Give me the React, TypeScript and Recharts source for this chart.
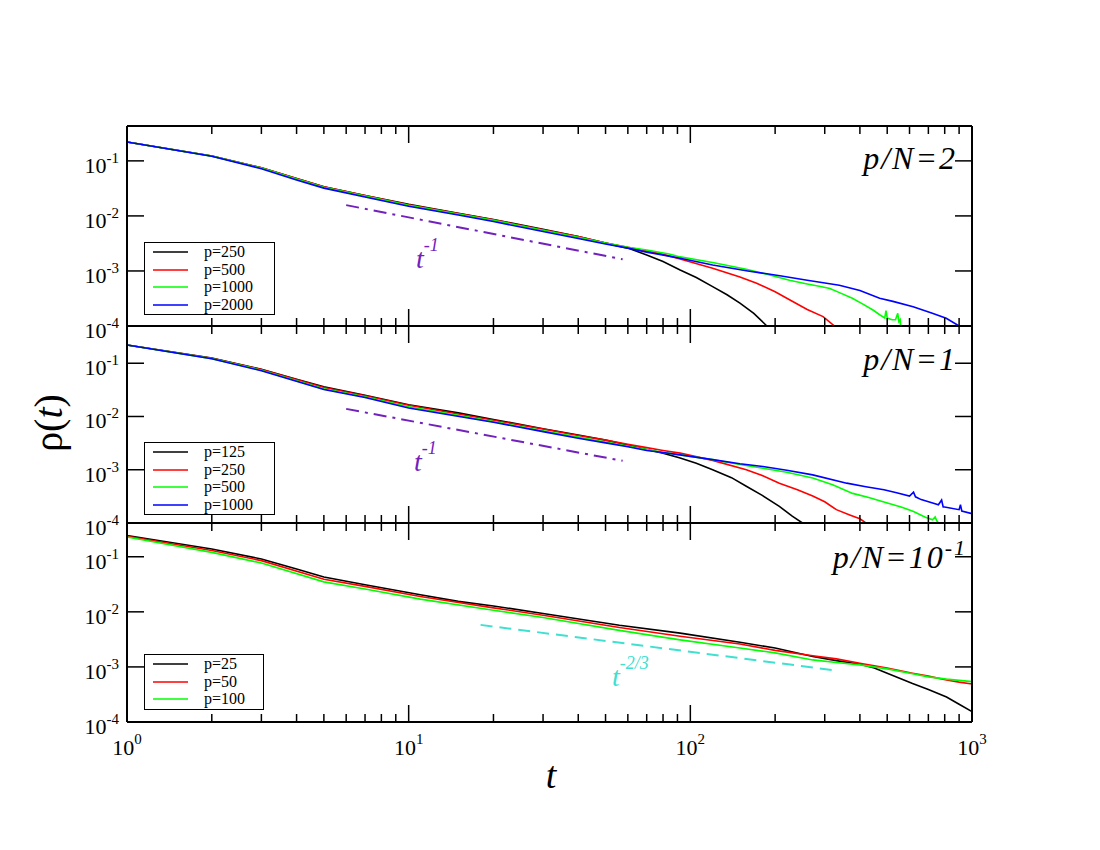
import React from 'react';
import { LineChart, Line, XAxis, YAxis, Legend } from 'recharts';

// rho(t) decay curves, three stacked log-log panels (p/N = 2, 1, 0.1)

type Pt = [number, number];

// ---- p/N = 2 ----
const P2_250: Pt[] = [
  [1, 0.22], [2, 0.123], [3, 0.075], [4, 0.048], [5, 0.034], [7, 0.0235], [10, 0.0162],
  [15, 0.0112], [20, 0.0086], [30, 0.0057], [40, 0.0042], [50, 0.0032], [60, 0.0026],
  [70, 0.00195], [80, 0.00148], [92, 0.00104], [105, 0.00076], [120, 0.00052],
  [135, 0.00037], [150, 0.00026], [168, 0.00017], [187, 0.0001],
];
const P2_500: Pt[] = [
  [1, 0.22], [2, 0.123], [3, 0.075], [4, 0.048], [5, 0.034], [7, 0.0235], [10, 0.016],
  [15, 0.011], [20, 0.0085], [30, 0.0056], [40, 0.0042], [50, 0.0032], [60, 0.0027],
  [70, 0.0023], [80, 0.002], [92, 0.00165], [120, 0.00112], [150, 0.00078], [172, 0.0006],
  [200, 0.00042], [225, 0.0003], [260, 0.0002], [296, 0.000148], [325, 0.0001],
];
const P2_1000: Pt[] = [
  [1, 0.22], [2, 0.122], [3, 0.074], [4, 0.047], [5, 0.033], [7, 0.023], [10, 0.0156],
  [15, 0.0108], [20, 0.0083], [30, 0.0055], [40, 0.0041], [50, 0.0032], [60, 0.0027],
  [70, 0.0024], [84, 0.00203], [92, 0.0018], [120, 0.00142], [158, 0.00107], [190, 0.00085],
  [225, 0.00068], [260, 0.00058], [290, 0.00052], [313, 0.00048], [340, 0.0004],
  [376, 0.00032], [410, 0.00025], [445, 0.000195], [470, 0.00016], [490, 0.00014],
  [495, 0.00019], [500, 0.00014], [520, 0.00013], [535, 0.00013], [545, 0.00017],
  [550, 0.00012], [556, 0.00013], [558, 0.0001],
];
const P2_2000: Pt[] = [
  [1, 0.22], [2, 0.121], [3, 0.072], [4, 0.045], [5, 0.032], [7, 0.022], [10, 0.015],
  [15, 0.0104], [20, 0.0079], [30, 0.0052], [40, 0.0039], [50, 0.0031], [60, 0.0026],
  [70, 0.0022], [84, 0.00186], [92, 0.0017], [120, 0.00128], [160, 0.001], [208, 0.00082],
  [260, 0.00068], [338, 0.00055], [400, 0.00044], [470, 0.00032], [524, 0.00028],
  [618, 0.000224], [723, 0.00017], [810, 0.000138], [900, 0.0001],
];
const GUIDE_P2: Pt[] = [[6, 0.0157], [57.5, 0.00163]];

// ---- p/N = 1 ----
const P1_125: Pt[] = [
  [1, 0.22], [2, 0.125], [3, 0.077], [4, 0.05], [5, 0.036], [7, 0.025], [10, 0.0166],
  [15, 0.0117], [20, 0.0088], [30, 0.0059], [40, 0.0045], [50, 0.0036], [60, 0.0029],
  [70, 0.0024], [80, 0.00205], [92, 0.00166], [105, 0.00132], [120, 0.001], [140, 0.00071],
  [158, 0.00049], [180, 0.00033], [207, 0.000205], [230, 0.000135], [250, 0.0001],
];
const P1_250: Pt[] = [
  [1, 0.22], [2, 0.124], [3, 0.076], [5, 0.035], [7, 0.0245], [10, 0.0162], [20, 0.0085],
  [30, 0.0058], [40, 0.0044], [50, 0.0036], [60, 0.003], [70, 0.0026], [80, 0.0023],
  [92, 0.00205], [120, 0.0015], [158, 0.001], [180, 0.00078], [207, 0.00056], [240, 0.00042],
  [272, 0.00032], [300, 0.00025], [330, 0.000178], [370, 0.00014], [400, 0.00012], [420, 0.0001],
];
const P1_500: Pt[] = [
  [1, 0.22], [2, 0.122], [3, 0.074], [5, 0.033], [7, 0.0235], [10, 0.0152], [20, 0.008],
  [30, 0.0054], [40, 0.0041], [50, 0.0033], [60, 0.0028], [70, 0.0024], [80, 0.0021],
  [92, 0.0019], [120, 0.00155], [150, 0.00125], [181, 0.00107], [220, 0.0009], [272, 0.0007],
  [320, 0.00052], [377, 0.00036], [430, 0.0003], [497, 0.00024], [560, 0.0002],
  [620, 0.000165], [680, 0.00013], [724, 0.000115], [740, 0.00013], [750, 0.00011], [760, 0.0001],
];
const P1_1000: Pt[] = [
  [1, 0.22], [2, 0.121], [3, 0.072], [5, 0.032], [7, 0.0228], [10, 0.0144], [20, 0.0078],
  [30, 0.0052], [40, 0.0039], [50, 0.0032], [60, 0.0027], [70, 0.0023], [80, 0.0021],
  [92, 0.0019], [120, 0.00155], [150, 0.0013], [181, 0.00115], [220, 0.00098], [272, 0.0008],
  [359, 0.00056], [420, 0.00048], [487, 0.00042], [540, 0.00037], [600, 0.00032],
  [620, 0.00038], [630, 0.00031], [660, 0.000275], [720, 0.00024], [760, 0.00022],
  [780, 0.00027], [790, 0.0002], [800, 0.0002], [900, 0.000178], [910, 0.00022],
  [920, 0.000168], [1000, 0.00015],
];
const GUIDE_P1: Pt[] = [[6, 0.0139], [57.5, 0.00147]];

// ---- p/N = 0.1 ----
const P01_25: Pt[] = [
  [1, 0.244], [2, 0.138], [3, 0.091], [4, 0.06], [5, 0.043], [7, 0.031], [11, 0.0204],
  [15, 0.0155], [20, 0.0128], [30, 0.0093], [56, 0.0057], [92, 0.0041], [150, 0.0028],
  [200, 0.0022], [272, 0.00155], [330, 0.0013], [400, 0.00112], [450, 0.00096],
  [500, 0.00077], [615, 0.0005], [700, 0.00039], [812, 0.000285], [900, 0.00021],
  [1000, 0.000154],
];
const P01_50: Pt[] = [
  [1, 0.235], [2, 0.13], [3, 0.085], [5, 0.039], [7, 0.029], [11, 0.019], [20, 0.0118],
  [30, 0.0087], [56, 0.0052], [92, 0.0036], [150, 0.0026], [200, 0.002], [272, 0.0016],
  [330, 0.0014], [400, 0.00117], [500, 0.00095], [615, 0.00077], [700, 0.00068],
  [812, 0.00058], [900, 0.00053], [1000, 0.00049],
];
const P01_100: Pt[] = [
  [1, 0.228], [2, 0.12], [3, 0.077], [5, 0.035], [7, 0.026], [11, 0.017], [20, 0.0107],
  [30, 0.0079], [56, 0.0046], [92, 0.0031], [150, 0.0022], [200, 0.0018], [272, 0.00134],
  [330, 0.0012], [400, 0.00109], [500, 0.00092], [615, 0.00075], [700, 0.00066],
  [812, 0.0006], [900, 0.00057], [1000, 0.00054],
];
const GUIDE_P01: Pt[] = [[18, 0.0058], [336, 0.00085]];

const X_TICKS = [
  1, 2, 3, 4, 5, 6, 7, 8, 9, 10, 20, 30, 40, 50, 60, 70, 80, 90,
  100, 200, 300, 400, 500, 600, 700, 800, 900, 1000,
];
const Y_TICKS = [1e-4, 1e-3, 1e-2, 1e-1];

const SERIF = '"Liberation Serif", "Times New Roman", "DejaVu Serif", serif';
const W = 1100;
const H = 850;
const LEFT = 127;
const RIGHT = 972;
const PURPLE = '#7221BC';
const CYAN = '#40E0D0';

const pts = (a: Pt[]) => a.map(([t, rho]) => ({ t, rho }));
const expOf = (v: number) => Math.round(Math.log10(v));
const isMajor = (v: number) => Math.abs(Math.log10(v) - expOf(v)) < 1e-9;

function XTick(props: any) {
  const { x, y, payload, side, label } = props;
  const major = isMajor(payload.value);
  const len = major ? 17 : 8;
  const dir = side === 'bottom' ? -1 : 1;
  return (
    <g>
      <line x1={x} x2={x} y1={y} y2={y + dir * len} stroke="#000" strokeWidth={1.5} />
      {label && major && (
        <text x={x} y={y + 33} textAnchor="middle" fontFamily={SERIF} fontSize={22} fill="#000">
          10<tspan dy={-11} fontSize={15}>{expOf(payload.value)}</tspan>
        </text>
      )}
    </g>
  );
}

function YTick(props: any) {
  const { x, y, payload, side } = props;
  const dir = side === 'left' ? 1 : -1;
  return (
    <g>
      <line x1={x} x2={x + dir * 17} y1={y} y2={y} stroke="#000" strokeWidth={1.5} />
      {side === 'left' && (
        <text x={x - 8} y={y + 12} textAnchor="end" fontFamily={SERIF} fontSize={22} fill="#000">
          10<tspan dy={-10} fontSize={15}>{expOf(payload.value)}</tspan>
        </text>
      )}
    </g>
  );
}

// legend box drawn from the Lines' own payload, kept in series order, guide line left out
const legendBox = (w: number, h: number, order: string[]) => ({ payload }: any) => {
  const items = (payload || [])
    .filter((e: any) => order.includes(e.value))
    .sort((a: any, b: any) => order.indexOf(a.value) - order.indexOf(b.value));
  return (
    <div
      style={{
        width: w, height: h, boxSizing: 'border-box', border: '1.5px solid #000',
        background: '#fff', padding: '0 0 0 8px', fontFamily: SERIF, fontSize: 16,
        lineHeight: '17.7px', color: '#000',
      }}
    >
      {items.map((e: any) => (
        <div key={e.value} style={{ display: 'flex', alignItems: 'center', height: 17.7 }}>
          <svg width={35} height={4}>
            <line x1={0} x2={35} y1={2} y2={2} stroke={e.color} strokeWidth={1.6} />
          </svg>
          <span style={{ marginLeft: 16 }}>{e.value}</span>
        </div>
      ))}
    </div>
  );
};

interface Series { name: string; color: string; data: Pt[] }
interface PanelProps {
  top: number; bottom: number; ymax: number; xLabels?: boolean;
  series: Series[]; guide: Pt[]; guideColor: string; guideDash: string;
  legend: { top: number; w: number; h: number };
  children?: React.ReactNode;
}

function Panel({ top, bottom, ymax, xLabels, series, guide, guideColor, guideDash, legend, children }: PanelProps) {
  const axisLine = { stroke: '#000', strokeWidth: 2 };
  const xCommon = {
    type: 'number' as const, dataKey: 't', scale: 'log' as const, domain: [1, 1000],
    ticks: X_TICKS, interval: 0, allowDataOverflow: true, tickSize: 0, tickMargin: 0,
    tickLine: false, height: 10, axisLine,
  };
  const yCommon = {
    type: 'number' as const, scale: 'log' as const, domain: [1e-4, ymax],
    ticks: Y_TICKS, interval: 0, allowDataOverflow: true, tickSize: 0, tickMargin: 0,
    tickLine: false, axisLine,
  };
  return (
    <div style={{ position: 'absolute', left: 0, top: 0 }}>
      <LineChart
        width={W}
        height={H}
        margin={{ top: top - 10, bottom: H - bottom - 10, left: LEFT - 60, right: W - RIGHT - 10 }}
      >
        <XAxis xAxisId="b" orientation="bottom" {...xCommon}
          tick={(p: any) => <XTick {...p} side="bottom" label={xLabels} />} />
        <XAxis xAxisId="t" orientation="top" {...xCommon}
          tick={(p: any) => <XTick {...p} side="top" />} />
        <YAxis yAxisId="l" orientation="left" width={60} {...yCommon}
          tick={(p: any) => <YTick {...p} side="left" />} />
        <YAxis yAxisId="r" orientation="right" width={10} {...yCommon}
          tick={(p: any) => <YTick {...p} side="right" />} />
        {series.map(s => (
          <Line key={s.name} xAxisId="b" yAxisId="l" data={pts(s.data)} dataKey="rho" name={s.name}
            stroke={s.color} strokeWidth={1.6} dot={false} isAnimationActive={false} />
        ))}
        <Line xAxisId="b" yAxisId="l" data={pts(guide)} dataKey="rho" name="guide" legendType="none"
          stroke={guideColor} strokeWidth={2} strokeDasharray={guideDash} dot={false} isAnimationActive={false} />
        <Legend layout="vertical" align="center" verticalAlign="middle"
          wrapperStyle={{ left: 144, top: legend.top, width: legend.w, height: legend.h }}
          content={legendBox(legend.w, legend.h, series.map(s => s.name))} />
        {children}
      </LineChart>
    </div>
  );
}

export default function App() {
  return (
    <div style={{ position: 'relative', width: W, height: H, background: '#fff' }}>
      <style>{'body{margin:0}'}</style>
      <Panel
        top={126} bottom={326} ymax={0.43}
        series={[
          { name: 'p=250', color: '#000000', data: P2_250 },
          { name: 'p=500', color: '#ff0000', data: P2_500 },
          { name: 'p=1000', color: '#00ff00', data: P2_1000 },
          { name: 'p=2000', color: '#0000ff', data: P2_2000 },
        ]}
        guide={GUIDE_P2} guideColor={PURPLE} guideDash="13 6 3 6"
        legend={{ top: 242, w: 131, h: 73 }}
      >
        <text x={957} y={169} textAnchor="end" fontFamily={SERIF} fontStyle="italic" fontSize={32} letterSpacing={2}>p/N=2</text>
        <text x={416} y={268} fontFamily={SERIF} fontStyle="italic" fontSize={28} fill={PURPLE}>
          t<tspan dy={-17} fontSize={18}>-1</tspan>
        </text>
      </Panel>
      <Panel
        top={326} bottom={523} ymax={0.5}
        series={[
          { name: 'p=125', color: '#000000', data: P1_125 },
          { name: 'p=250', color: '#ff0000', data: P1_250 },
          { name: 'p=500', color: '#00ff00', data: P1_500 },
          { name: 'p=1000', color: '#0000ff', data: P1_1000 },
        ]}
        guide={GUIDE_P1} guideColor={PURPLE} guideDash="13 6 3 6"
        legend={{ top: 442, w: 131, h: 73 }}
      >
        <text x={957} y={370} textAnchor="end" fontFamily={SERIF} fontStyle="italic" fontSize={32} letterSpacing={2}>p/N=1</text>
        <text x={414} y={471} fontFamily={SERIF} fontStyle="italic" fontSize={28} fill={PURPLE}>
          t<tspan dy={-17} fontSize={18}>-1</tspan>
        </text>
        <text transform="translate(62,423) rotate(-90)" textAnchor="middle" fontFamily={SERIF} fontSize={40}>
          ρ(<tspan fontStyle="italic">t</tspan>)
        </text>
      </Panel>
      <Panel
        top={523} bottom={722} ymax={0.41} xLabels
        series={[
          { name: 'p=25', color: '#000000', data: P01_25 },
          { name: 'p=50', color: '#ff0000', data: P01_50 },
          { name: 'p=100', color: '#00ff00', data: P01_100 },
        ]}
        guide={GUIDE_P01} guideColor={CYAN} guideDash="12 7"
        legend={{ top: 654, w: 120, h: 56 }}
      >
        <text x={967} y={568} textAnchor="end" fontFamily={SERIF} fontStyle="italic" fontSize={32} letterSpacing={2}>
          p/N=10<tspan dy={-13} fontSize={22}>-1</tspan>
        </text>
        <text x={612} y={686} fontFamily={SERIF} fontStyle="italic" fontSize={28} fill={CYAN}>
          t<tspan dy={-17} fontSize={18}>-2/3</tspan>
        </text>
        <text x={551} y={788} textAnchor="middle" fontFamily={SERIF} fontStyle="italic" fontSize={38}>t</text>
      </Panel>
    </div>
  );
}
